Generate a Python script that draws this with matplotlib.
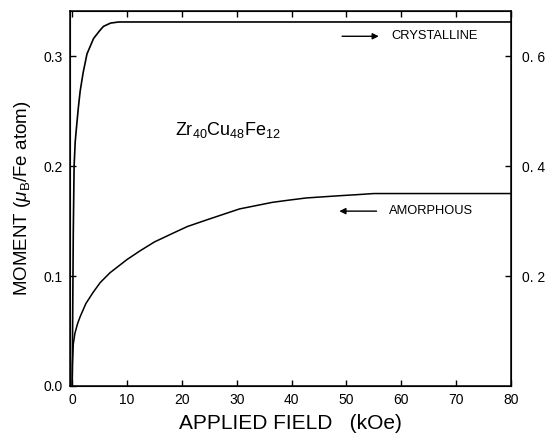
import matplotlib.pyplot as plt

plt.rcParams["font.family"] = ["Liberation Sans", "DejaVu Sans"]
plt.rcParams["mathtext.fontset"] = "custom"
plt.rcParams["mathtext.rm"] = "Liberation Sans"
plt.rcParams["mathtext.it"] = "Liberation Sans:italic"

# magnetization curves, moment per Fe atom vs applied field
cryst_field = [0, 0.1, 0.2, 0.35, 0.55, 0.8, 1.1, 1.45, 2.0, 2.7, 3.9, 5.0,
               5.7, 7.0, 8.5, 10, 20, 40, 60, 80]
cryst_moment = [0, 0.07, 0.14, 0.2, 0.222, 0.236, 0.252, 0.268, 0.285, 0.302,
                0.316, 0.323, 0.327, 0.330, 0.331, 0.331, 0.331, 0.331, 0.331, 0.331]

amor_field = [0, 0.05, 0.2, 0.5, 1.0, 1.45, 2.5, 3.8, 5.1, 6.9, 10, 12.4, 15,
              18.4, 21, 24.5, 27.5, 30.5, 33.5, 36.5, 39.5, 42.7, 45.7, 48.7,
              52, 55, 60, 70, 80]
amor_moment = [0, 0.02, 0.038, 0.048, 0.057, 0.063, 0.075, 0.085, 0.094, 0.103,
               0.115, 0.123, 0.131, 0.139, 0.145, 0.151, 0.156, 0.161, 0.164,
               0.167, 0.169, 0.171, 0.172, 0.173, 0.174, 0.175, 0.175, 0.175, 0.175]

x_ticks = [0, 10, 20, 30, 40, 50, 60, 70, 80]
left_ticks = [0.0, 0.1, 0.2, 0.3]
right_ticks = [0.2, 0.4, 0.6]

fig = plt.figure(figsize=(5.52, 4.34), dpi=100)
ax = fig.add_axes([0.1268, 0.1106, 0.7989, 0.8641])

ax.plot(cryst_field, cryst_moment, color="black", lw=1.2)
ax.plot(amor_field, amor_moment, color="black", lw=1.1)

ax.set_xlim(-0.4, 80)
ax.set_ylim(0, 0.341)
ax.set_xticks(x_ticks)
ax.set_xticklabels([str(v) for v in x_ticks])
ax.set_yticks(left_ticks)
ax.set_yticklabels(["%.1f" % v for v in left_ticks])
ax.tick_params(direction="in", length=4, width=1, labelsize=10, pad=5,
               top=True, right=False)
for s in ax.spines.values():
    s.set_linewidth(1.1)

ax2 = ax.twinx()
ax2.set_ylim(0, 0.682)
ax2.set_yticks(right_ticks)
ax2.set_yticklabels(["0. %d" % round(v * 10) for v in right_ticks])
ax2.tick_params(direction="in", length=4, width=1, labelsize=10, pad=8)

ax.set_xlabel("APPLIED FIELD   (kOe)", fontsize=15, labelpad=5)
ax.set_ylabel(r"MOMENT ($\mathit{\mu}_{\rm B}$/Fe atom)", fontsize=13.5, labelpad=8)

ax.text(18.7, 0.233, r"Zr$_{40}$Cu$_{48}$Fe$_{12}$", fontsize=13, va="center")

ax.annotate("", xy=(56.4, 0.318), xytext=(48.7, 0.318),
            arrowprops=dict(arrowstyle="-|>", color="black", lw=1,
                            mutation_scale=9))
ax.text(58.2, 0.318, "CRYSTALLINE", fontsize=9.3, va="center")

ax.annotate("", xy=(48.2, 0.159), xytext=(56.0, 0.159),
            arrowprops=dict(arrowstyle="-|>", color="black", lw=1,
                            mutation_scale=9))
ax.text(57.8, 0.159, "AMORPHOUS", fontsize=9.3, va="center")

fig.savefig("out.png", dpi=100)
